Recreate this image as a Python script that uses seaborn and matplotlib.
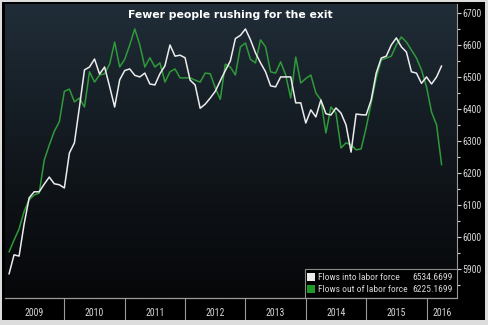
import numpy as np
import pandas as pd
import matplotlib
matplotlib.use("Agg")
import matplotlib.pyplot as plt
from matplotlib import font_manager as fm
from matplotlib.patches import Rectangle
import seaborn as sns

# Monthly labor-force flows, Feb 2009 .. Apr 2016 (thousands)
month_index = list(range(1, 88))  # 0 = Jan 2009
flows_into = [
    5884, 5944, 5940, 6040, 6122, 6141, 6141, 6165, 6187, 6166, 6163, 6153,
    6262, 6294, 6406, 6522, 6531, 6556, 6509, 6531, 6470, 6406, 6491, 6520,
    6525, 6505, 6500, 6512, 6478, 6475, 6510, 6535, 6600, 6565, 6568, 6560,
    6490, 6475, 6402, 6415, 6434, 6455, 6488, 6520, 6550, 6620, 6630, 6650,
    6616, 6575, 6544, 6516, 6472, 6469, 6500, 6500, 6500, 6419, 6419, 6356,
    6397, 6375, 6428, 6385, 6381, 6403, 6387, 6350, 6265, 6384, 6382, 6381,
    6428, 6512, 6559, 6565, 6600, 6622, 6594, 6578, 6516, 6512, 6480, 6500,
    6478, 6500, 6534.6699,
]
flows_out = [
    5953, 5990, 6025, 6080, 6116, 6131, 6137, 6240, 6287, 6330, 6360, 6455,
    6462, 6422, 6434, 6406, 6516, 6484, 6506, 6510, 6540, 6609, 6531, 6555,
    6600, 6650, 6600, 6531, 6560, 6531, 6544, 6484, 6516, 6525, 6497, 6497,
    6497, 6490, 6484, 6512, 6510, 6466, 6430, 6540, 6531, 6506, 6594, 6606,
    6555, 6544, 6616, 6594, 6516, 6512, 6547, 6506, 6434, 6562, 6481, 6495,
    6506, 6450, 6428, 6325, 6406, 6387, 6278, 6294, 6288, 6272, 6275, 6341,
    6419, 6497, 6553, 6559, 6565, 6600, 6625, 6609, 6584, 6559, 6522, 6469,
    6390, 6350, 6225.1699,
]
series_names = ["Flows into labor force", "Flows out of labor force"]
years = ["2009", "2010", "2011", "2012", "2013", "2014", "2015", "2016"]
y_ticks = [5900, 6000, 6100, 6200, 6300, 6400, 6500, 6600, 6700]

WHITE_LINE = "#ececec"
GREEN_LINE = "#2f9a3a"
TEXT_COL = "#d6d6d6"
GRID_COL = "#9a9a9a"

sns.set_style("dark")

# pick a narrow face for the small labels if one is available
installed = {f.name for f in fm.fontManager.ttflist}
narrow_family = next((n for n in ["Liberation Sans Narrow", "Roboto Condensed",
                                  "Open Sans Condensed", "Noto Sans Condensed"]
                      if n in installed), None)
dejavu_condensed = any(f.name == "DejaVu Sans" and f.stretch == "condensed"
                       for f in fm.fontManager.ttflist)
if narrow_family:
    small_font = fm.FontProperties(family=narrow_family)
elif dejavu_condensed:
    small_font = fm.FontProperties(family="DejaVu Sans", stretch="condensed")
else:
    small_font = fm.FontProperties(family="Liberation Sans")
plt.rcParams["font.family"] = [small_font.get_family()[0], "DejaVu Sans"]

W, H = 488, 325
fig = plt.figure(figsize=(W / 100, H / 100), dpi=100, facecolor="#dcdcdc")

# black backdrop behind everything inside the frame
back = fig.add_axes([2 / W, 5 / H, 483 / W, 318 / H])
back.set_facecolor("black")
back.set_xticks([]); back.set_yticks([])
for s in back.spines.values():
    s.set_visible(False)

x0, x1 = 5, 457
ytop, ybot = 4, 298
ax = fig.add_axes([x0 / W, 1 - ybot / H, (x1 - x0) / W, (ybot - ytop) / H])
ax.set_facecolor("none")

# vertical gradient background of the plotting area
grad = np.linspace(0, 1, 256)[:, None]
top_c = np.array([0x20, 0x2d, 0x38]) / 255
mid_c = np.array([0x12, 0x18, 0x1e]) / 255
bot_c = np.array([0x06, 0x07, 0x09]) / 255
rgb = np.where(grad[..., None] < 0.5,
               top_c + (mid_c - top_c) * (grad[..., None] / 0.5),
               mid_c + (bot_c - mid_c) * ((grad[..., None] - 0.5) / 0.5))
ax.imshow(rgb, extent=[0, 1, 0, 1], transform=ax.transAxes, aspect="auto",
          zorder=0, interpolation="bilinear")

df = pd.DataFrame({
    "month": month_index * 2,
    "value": flows_into + flows_out,
    "series": [series_names[0]] * len(flows_into) + [series_names[1]] * len(flows_out),
})
sns.lineplot(data=df, x="month", y="value", hue="series",
             palette={series_names[0]: WHITE_LINE, series_names[1]: GREEN_LINE},
             hue_order=[series_names[1], series_names[0]],
             linewidth=1.1, legend=False, ax=ax, zorder=3)

xmin, xmax = 0.2, 90.06
ax.set_xlim(xmin, xmax)
ax.set_ylim(5809, 6728)
ax.set_xlabel(""); ax.set_ylabel("")
ax.set_xticks([])
ax.grid(False)
ax.yaxis.tick_right()
ax.set_yticks(y_ticks)
ax.set_yticks(np.arange(5850, 6728, 100), minor=True)
ax.tick_params(axis="y", which="major", direction="out", length=3, width=0.8,
               colors=TEXT_COL, labelsize=7, pad=1)
ax.tick_params(axis="y", which="minor", direction="out", length=2, width=0.8,
               colors=TEXT_COL)
for lab in ax.get_yticklabels():
    lab.set_fontproperties(small_font)
    lab.set_fontsize(7)
for name, s in ax.spines.items():
    s.set_visible(name == "right")
ax.spines["right"].set_color(GRID_COL)
ax.spines["right"].set_linewidth(0.8)

ax.text(0.498, 0.962, "Fewer people rushing for the exit", transform=ax.transAxes,
        ha="center", va="center", color="white", fontsize=7.8, fontweight="bold",
        family=["DejaVu Sans"], zorder=5)

# legend box with last values
lx0, lx1 = (305 - x0) / (x1 - x0), 1.0
ax.add_patch(Rectangle((lx0, 0), lx1 - lx0, (ybot - 269) / (ybot - ytop),
                       transform=ax.transAxes, facecolor="black",
                       edgecolor="#8a8a8a", linewidth=0.8, zorder=6))
rows = [(series_names[0], flows_into[-1], WHITE_LINE, 0.0714),
        (series_names[1], flows_out[-1], "#1f9a28", 0.0306)]
px = (307 - x0) / (x1 - x0)
pw = 8 / (x1 - x0)
ph = 8 / (ybot - ytop)
legend_texts = []
for label, val, col, yc in rows:
    ax.add_patch(Rectangle((px, yc - ph / 2), pw, ph, transform=ax.transAxes,
                           facecolor=col, edgecolor="none", zorder=7))
    t1 = ax.text((318 - x0) / (x1 - x0), yc, label, transform=ax.transAxes,
                 ha="left", va="center", color=TEXT_COL, fontsize=7, zorder=7,
                 fontproperties=small_font)
    t2 = ax.text((453 - x0) / (x1 - x0), yc, f"{val:.4f}", transform=ax.transAxes,
                 ha="right", va="center", color=TEXT_COL, fontsize=7, zorder=7,
                 fontproperties=small_font)
    legend_texts.append((t1, t2))

# shrink legend text until label and value sit apart on each row
size = 7.0
for _ in range(20):
    for t1, t2 in legend_texts:
        t1.set_fontsize(size); t2.set_fontsize(size)
    fig.canvas.draw()
    r = fig.canvas.get_renderer()
    gap = min(t2.get_window_extent(r).x0 - t1.get_window_extent(r).x1
              for t1, t2 in legend_texts)
    if gap >= 3:
        break
    size -= 0.2

# year band under the plot
band_top, band_bot = 298, 320
band = fig.add_axes([x0 / W, 1 - band_bot / H, (x1 - x0) / W, (band_bot - band_top) / H])
band.set_facecolor("black")
band.set_xlim(xmin, xmax)
band.set_ylim(0, 1)
band.set_xticks([]); band.set_yticks([])
for name, s in band.spines.items():
    s.set_visible(name == "top")
band.spines["top"].set_color(GRID_COL)
band.spines["top"].set_linewidth(0.9)
for i, yr in enumerate(years):
    start = 12 * i
    end = min(12 * (i + 1), xmax)
    if i > 0:
        band.axvline(start, color=GRID_COL, linewidth=0.8)
    band.text((start + end) / 2, 0.33, yr, ha="center", va="center",
              color=TEXT_COL, fontsize=7, fontproperties=small_font)

fig.savefig("out.png", dpi=100, facecolor=fig.get_facecolor())
